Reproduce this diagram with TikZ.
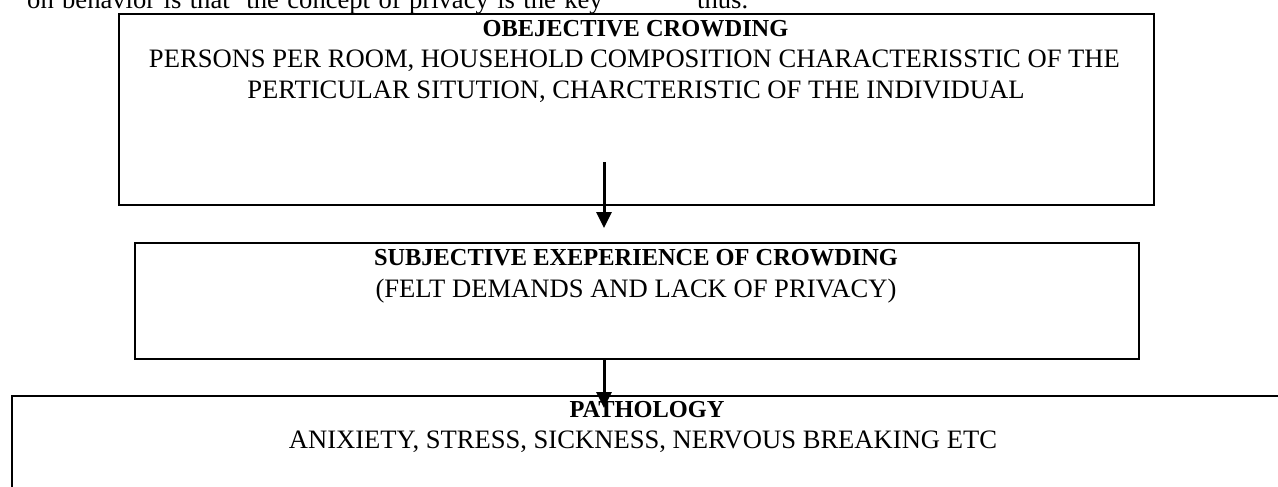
\documentclass[tikz,border=0pt]{standalone}
\usepackage{fontspec}
\setmainfont{Liberation Serif}
\usetikzlibrary{arrows.meta}
\begin{document}
\begin{tikzpicture}[x=1pt,y=-1pt,
  box/.style={draw,line width=2.2pt,inner sep=0pt,anchor=north west},
  flow/.style={line width=3pt,-{Triangle[width=15pt,length=16pt]}},
  txt/.style={font=\fontsize{26.6}{30}\selectfont,inner sep=0pt,anchor=base},
  btxt/.style={font=\fontsize{24.4}{28}\selectfont\bfseries,inner sep=0pt,anchor=base}]
\useasboundingbox (0,0) rectangle (1278,487);
% running text above
\node[txt,anchor=base west] (run1) at (27,9) {\spaceskip=8.4pt on behavior is that\hspace{8.4pt} the concept of privacy is the key};
\node[txt,anchor=base west] (run2) at (697,9) {thus.};
% boxes
\node[box,minimum width=1035pt,minimum height=191pt] (obj) at (118,13) {};
\node[box,minimum width=1004pt,minimum height=116pt] (subj) at (134,242) {};
\node[box,minimum width=1320pt,minimum height=150pt] (path) at (11,395) {};
% texts
\node[btxt] (objt) at (635.5,37) {OBEJECTIVE CROWDING};
\node[txt] (objl1) at (634.5,68) {PERSONS PER ROOM, HOUSEHOLD COMPOSITION CHARACTERISSTIC OF THE};
\node[txt] (objl2) at (636,99) {PERTICULAR SITUTION, CHARCTERISTIC OF THE INDIVIDUAL};
\node[btxt] (subjt) at (636,265) {SUBJECTIVE EXEPERIENCE OF CROWDING};
\node[txt] (subjl) at (636,297) {(FELT DEMANDS AND LACK OF PRIVACY)};
\node[btxt] (patht) at (647,417) {PATHOLOGY};
\node[txt] (pathl) at (643,448) {ANIXIETY, STRESS, SICKNESS, NERVOUS BREAKING ETC};
% arrows
\coordinate (a1s) at (604,162);
\coordinate (a1e) at (604,228);
\coordinate (a2s) at (604,360);
\coordinate (a2e) at (604,408);
\draw[flow] (a1s) -- (a1e);
\draw[flow] (a2s) -- (a2e);
\end{tikzpicture}
\end{document}
